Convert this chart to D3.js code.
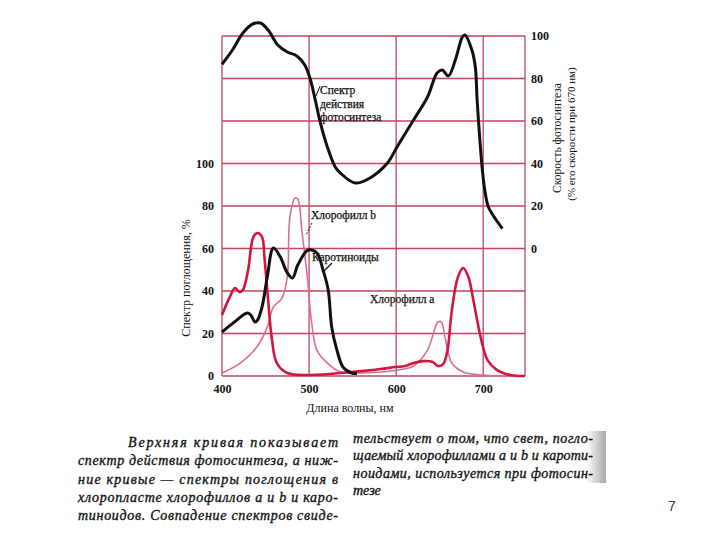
<!DOCTYPE html>
<html>
<head>
<meta charset="utf-8">
<script src="https://cdn.jsdelivr.net/npm/d3@7"></script>
<style>
  body { margin: 0; background: #fff; }
  svg { display: block; }
</style>
</head>
<body>
<svg id="chart" width="720" height="540"></svg>
<script>
// action spectrum, % of rate at 670 nm (right axis)
const photoSpectrum = [
  [400, 86.7], [412, 93.4], [424, 101.4], [435, 105.6], [444, 106.1], [453, 102.8],
  [464, 95.8], [475, 92.5], [486, 90.6], [495, 86.4], [501, 80.2], [507, 70.1],
  [513, 59.1], [521, 47.8], [530, 38.4], [536, 35.5], [553, 30.8], [570, 33.2],
  [590, 40.2], [601, 47.8], [620, 60.5], [636, 71.3], [647, 82.6], [653, 84],
  [660, 81.2], [668, 88.7], [676, 99.5], [679, 100.5], [687, 93.4], [691, 85.2],
  [693, 70], [696, 52], [699, 37], [702, 27], [706, 19.5], [714, 14], [722, 9.4]
];
// absorption, % (left axis)
const chlorophyllA = [
  [400, 28.7], [409, 37.2], [415, 41.4], [420, 39.5], [424, 40.5], [430, 49.9],
  [436, 65.4], [441, 67.3], [446, 65.4], [449, 54.6], [453, 35.8], [457, 18.4],
  [463, 6.1], [475, 1.4], [501, 0.5], [549, 1.9], [582, 3.3], [599, 4.2],
  [610, 4.7], [620, 6.1], [631, 7], [642, 6.6], [648, 4.7], [654, 5.6],
  [659, 12.2], [664, 31], [671, 46.6], [677, 50.8], [683, 46.6], [688, 37.2],
  [697, 18.4], [705, 7.5], [716, 2.8], [731, 0.5], [748, 0]
];
const chlorophyllB = [
  [400, 1.4], [421, 6.1], [440, 13.6], [452, 23], [459, 32.5], [469, 36.7],
  [475, 46.6], [478, 74.8], [484, 83.8], [487, 83.3], [492, 67.3], [498, 46.6],
  [503, 24.9], [509, 12.2], [521, 6.1], [536, 1.9], [555, 1.4], [582, 1.9],
  [602, 2.8], [620, 4.7], [636, 12.2], [648, 25.4], [652, 25.4], [656, 18.4],
  [664, 6.1], [677, 1.9], [697, 0.5], [748, 0]
];
const carotenoids = [
  [400, 20.7], [413, 25], [429, 29.6], [433, 28.7], [438, 25.4], [441, 26.4],
  [446, 32.5], [452, 46.6], [459, 60.2], [467, 56], [475, 48.5], [481, 46.1],
  [487, 52.2], [499, 59.3], [509, 57.9], [516, 49.9], [522, 40.5], [526, 23],
  [532, 12.2], [539, 4.2], [549, 1.4], [555, 1.2]
];

const xTicks = [400, 500, 600, 700];
const leftTicks = [0, 20, 40, 60, 80, 100];
const rightTicks = [0, 20, 40, 60, 80, 100];
const gridRows = [0, 20, 40, 60, 80, 100, 120, 140, 160];

const captionLeft = [
  "Верхняя кривая показывает",
  "спектр действия фотосинтеза, а ниж-",
  "ние кривые — спектры поглощения в",
  "хлоропласте хлорофиллов a и b и каро-",
  "тиноидов. Совпадение спектров свиде-"
];
const captionRight = [
  "тельствует о том, что свет, погло-",
  "щаемый хлорофиллами a и b и кароти-",
  "ноидами, используется при фотосин-",
  "тезе"
];

const svg = d3.select('#chart');
const serif = '"Liberation Serif", "DejaVu Serif", serif';
const gridColor = '#c2445e';

const x = d3.scaleLinear().domain([400, 748]).range([222, 525]);
const yLeft = d3.scaleLinear().domain([0, 160]).range([376, 36]);
const yRight = d3.scaleLinear().domain([-60, 100]).range([376, 36]);

// grid
const grid = svg.append('g');
grid.selectAll('.row').data(gridRows).enter().append('line')
  .attr('x1', x(400)).attr('x2', x(748))
  .attr('y1', d => yLeft(d)).attr('y2', d => yLeft(d))
  .attr('stroke', gridColor).attr('stroke-width', 1.3);
grid.selectAll('.col').data(xTicks.concat([748])).enter().append('line')
  .attr('x1', d => x(d)).attr('x2', d => x(d))
  .attr('y1', yLeft(0)).attr('y2', yLeft(160))
  .attr('stroke', gridColor).attr('stroke-width', 1.3);

// axes (labels only)
const styleAxis = g => {
  g.select('.domain').remove();
  g.selectAll('text').attr('font-family', serif).attr('font-size', 12)
    .attr('font-weight', 'bold').attr('fill', '#111');
};
svg.append('g').attr('transform', `translate(${x(400) - 6},0)`)
  .call(d3.axisLeft(yLeft).tickValues(leftTicks).tickSize(0).tickPadding(2))
  .call(styleAxis);
svg.append('g').attr('transform', `translate(0,${yLeft(0) + 6})`)
  .call(d3.axisBottom(x).tickValues(xTicks).tickSize(0).tickPadding(2))
  .call(styleAxis);
svg.append('g').attr('transform', `translate(${x(748) + 5},0)`)
  .call(d3.axisRight(yRight).tickValues(rightTicks).tickSize(0).tickPadding(1))
  .call(styleAxis);

// curves
const lineL = d3.line().x(d => x(d[0])).y(d => yLeft(d[1])).curve(d3.curveCatmullRom.alpha(0.5));
const lineR = d3.line().x(d => x(d[0])).y(d => yRight(d[1])).curve(d3.curveCatmullRom.alpha(0.5));

svg.append('path').datum(chlorophyllB).attr('d', lineL)
  .attr('fill', 'none').attr('stroke', '#d8708c').attr('stroke-width', 1.6);
svg.append('path').datum(chlorophyllA).attr('d', lineL)
  .attr('fill', 'none').attr('stroke', '#d3153f').attr('stroke-width', 2.6);
svg.append('path').datum(carotenoids).attr('d', lineL)
  .attr('fill', 'none').attr('stroke', '#111').attr('stroke-width', 3);
svg.append('path').datum(photoSpectrum).attr('d', lineR)
  .attr('fill', 'none').attr('stroke', '#111').attr('stroke-width', 3);

// annotations
const note = (tx, ty, str) => svg.append('text').attr('x', tx).attr('y', ty)
  .attr('font-family', serif).attr('font-size', 11.5).attr('fill', '#111')
  .attr('stroke', '#111').attr('stroke-width', 0.25).text(str);
['Спектр', 'действия', 'фотосинтеза'].forEach((s, i) => note(320, 94 + i * 13.5, s));
note(311, 219, 'Хлорофилл b');
note(312, 261, 'Каротиноиды');
note(370, 303, 'Хлорофилл a');

svg.append('path').attr('d', 'M313,93 L316,96 L320,86')
  .attr('fill', 'none').attr('stroke', '#111').attr('stroke-width', 1);
svg.append('line').attr('x1', 312).attr('y1', 223).attr('x2', 306).attr('y2', 235)
  .attr('stroke', '#111').attr('stroke-width', 1).attr('stroke-dasharray', '2,1.5');
svg.append('line').attr('x1', 332).attr('y1', 263).attr('x2', 323).attr('y2', 272)
  .attr('stroke', '#111').attr('stroke-width', 1.2);

// axis titles
svg.append('text').attr('x', 350).attr('y', 412).attr('text-anchor', 'middle')
  .attr('font-family', serif).attr('font-size', 12).attr('fill', '#111')
  .text('Длина волны, нм');
svg.append('text').attr('transform', 'translate(190,278) rotate(-90)')
  .attr('text-anchor', 'middle').attr('font-family', serif).attr('font-size', 12)
  .attr('fill', '#111').text('Спектр поглощения, %');
svg.append('text').attr('transform', 'translate(561,138) rotate(-90)')
  .attr('text-anchor', 'middle').attr('font-family', serif).attr('font-size', 11.5)
  .attr('fill', '#111').text('Скорость фотосинтеза');
svg.append('text').attr('transform', 'translate(575,134) rotate(-90)')
  .attr('text-anchor', 'middle').attr('font-family', serif).attr('font-size', 11)
  .attr('fill', '#111').text('(% его скорости при 670 нм)');

// scan shading at the right of the caption
const grad = svg.append('defs').append('linearGradient').attr('id', 'shade');
grad.append('stop').attr('offset', '0%').attr('stop-color', '#fff');
grad.append('stop').attr('offset', '100%').attr('stop-color', '#a8a8a8');
svg.append('rect').attr('x', 586).attr('y', 431).attr('width', 20).attr('height', 52)
  .attr('fill', 'url(#shade)');

// caption
const caption = svg.append('g').attr('font-family', serif).attr('font-style', 'italic')
  .attr('font-size', 14).attr('fill', '#111').attr('stroke', '#111').attr('stroke-width', 0.35);
captionLeft.forEach((s, i) => {
  const x0 = i === 0 ? 128 : 78;
  caption.append('text').attr('x', x0).attr('y', 447 + i * 18.3)
    .attr('textLength', 338 - x0).attr('lengthAdjust', 'spacing').text(s);
});
captionRight.forEach((s, i) => {
  const t = caption.append('text').attr('x', 353).attr('y', 443 + i * 17.4).text(s);
  if (i < captionRight.length - 1) t.attr('textLength', 240).attr('lengthAdjust', 'spacing');
});

svg.append('text').attr('x', 672).attr('y', 511).attr('text-anchor', 'middle')
  .attr('font-family', '"Liberation Sans", sans-serif').attr('font-size', 14)
  .attr('fill', '#333').text('7');
</script>
</body>
</html>
